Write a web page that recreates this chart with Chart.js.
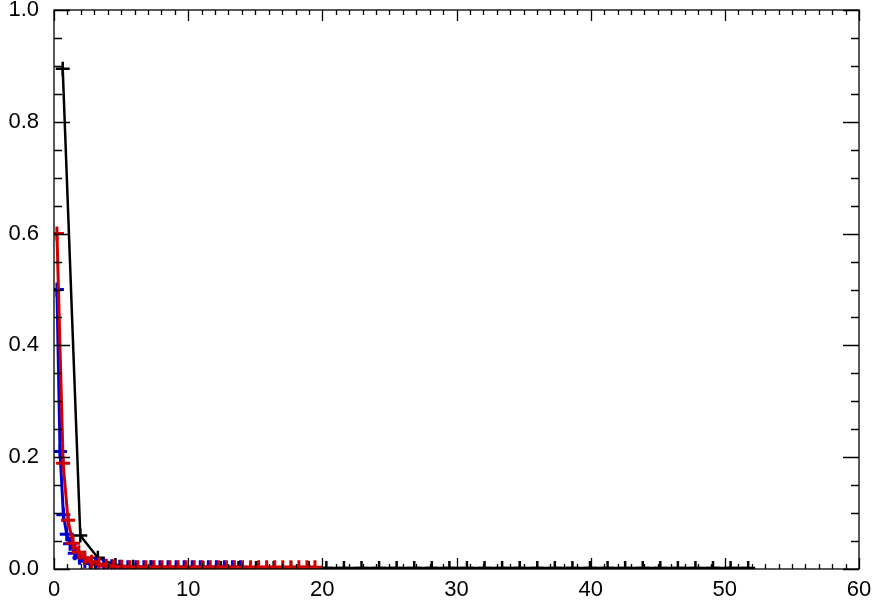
<!DOCTYPE html>
<html>
<head>
<meta charset="utf-8">
<script src="https://cdn.jsdelivr.net/npm/chart.js@4.4.1/dist/chart.umd.min.js"></script>
<style>
    html, body { margin: 0; padding: 0; background: #fff; }
    #wrap { position: relative; width: 876px; height: 605px; }
</style>
</head>
<body>
<div id="wrap"><canvas id="plot" width="876" height="605"></canvas></div>
<script>
// tick labels
const xTicks = [0, 10, 20, 30, 40, 50, 60];
const yTicks = [0.0, 0.2, 0.4, 0.6, 0.8, 1.0];

// black series
const blackX = [0.65, 1.96, 3.27, 4.58, 5.89, 7.20, 8.51, 9.82, 11.13, 12.44,
    13.75, 15.06, 16.37, 17.68, 18.99, 20.30, 21.61, 22.92, 24.23, 25.54,
    26.85, 28.16, 29.47, 30.78, 32.09, 33.40, 34.71, 36.02, 37.33, 38.64,
    39.95, 41.26, 42.57, 43.88, 45.19, 46.50, 47.81, 49.12, 50.43, 51.74];
const blackY = [0.895, 0.06, 0.02, 0.007, 0.004, 0.003, 0.002, 0.002, 0.002, 0.002,
    0.002, 0.002, 0.002, 0.002, 0.002, 0.002, 0.002, 0.002, 0.002, 0.002,
    0.002, 0.002, 0.002, 0.002, 0.002, 0.002, 0.002, 0.002, 0.002, 0.002,
    0.002, 0.002, 0.002, 0.002, 0.002, 0.002, 0.002, 0.002, 0.002, 0.002];

// blue series
const blueX = [0.22, 0.45, 0.70, 0.95, 1.20, 1.55, 1.90, 2.30, 2.70, 3.10,
    3.70, 4.30, 4.90, 5.50, 6.10, 6.70, 7.30, 7.90, 8.50, 9.10,
    9.70, 10.30, 10.90, 11.50, 12.10, 12.70, 13.30, 13.90];
const blueY = [0.5, 0.21, 0.097, 0.062, 0.045, 0.028, 0.02, 0.014, 0.01, 0.008,
    0.006, 0.005, 0.004, 0.003, 0.003, 0.003, 0.003, 0.003, 0.003, 0.003,
    0.003, 0.003, 0.003, 0.003, 0.003, 0.003, 0.003, 0.003];

// red series
const redX = [0.22, 0.68, 1.05, 1.42, 1.85, 2.30, 2.80, 3.35, 3.90, 4.45,
    5.05, 5.65, 6.25, 6.85, 7.45, 8.05, 8.65, 9.25, 9.85, 10.45,
    11.05, 11.65, 12.25, 12.85, 13.45, 14.05, 14.65, 15.25, 15.85, 16.45,
    17.05, 17.65, 18.25, 18.85, 19.45];
const redY = [0.6, 0.189, 0.087, 0.046, 0.03, 0.02, 0.013, 0.009, 0.006, 0.005,
    0.004, 0.003, 0.003, 0.003, 0.003, 0.003, 0.003, 0.003, 0.003, 0.003,
    0.003, 0.003, 0.003, 0.003, 0.003, 0.003, 0.003, 0.003, 0.003, 0.003,
    0.003, 0.003, 0.003, 0.003, 0.003];

function pairs(xs, ys) {
    return xs.map((x, i) => ({ x: x, y: ys[i] }));
}

function series(xs, ys, color, width) {
    return {
        data: pairs(xs, ys),
        borderColor: color,
        backgroundColor: color,
        borderWidth: width,
        pointStyle: 'cross',
        pointRadius: 7,
        pointBorderWidth: width,
        pointBorderColor: color,
        tension: 0,
        fill: false
    };
}

// IDL style box with inward ticks on all four sides
const boxAxes = {
    id: 'boxAxes',
    afterDatasetsDraw(chart) {
        const { ctx, chartArea: a, scales } = chart;
        const xs = scales.x, ys = scales.y;
        ctx.save();
        ctx.strokeStyle = '#000';
        ctx.lineWidth = 1.3;
        ctx.strokeRect(a.left, a.top, a.right - a.left, a.bottom - a.top);
        ctx.beginPath();
        for (let v = 0; v <= 60; v += 1) {
            const px = Math.round(xs.getPixelForValue(v)) + 0.5;
            const len = v % 10 === 0 ? 11 : 5;
            ctx.moveTo(px, a.bottom); ctx.lineTo(px, a.bottom - len);
            ctx.moveTo(px, a.top); ctx.lineTo(px, a.top + len);
        }
        for (let k = 0; k <= 20; k++) {
            const py = Math.round(ys.getPixelForValue(k * 0.05)) + 0.5;
            const len = k % 4 === 0 ? 16 : 8;
            ctx.moveTo(a.left, py); ctx.lineTo(a.left + len, py);
            ctx.moveTo(a.right, py); ctx.lineTo(a.right - len, py);
        }
        ctx.stroke();
        ctx.restore();
    }
};

Chart.defaults.font.family = "'Liberation Sans', Arial, sans-serif";
Chart.defaults.color = '#000';

new Chart(document.getElementById('plot').getContext('2d'), {
    type: 'line',
    data: {
        datasets: [
            series(blackX, blackY, '#000000', 2.5),
            series(blueX, blueY, '#0000d0', 3),
            series(redX, redY, '#d00000', 3)
        ].reverse()
    },
    options: {
        responsive: false,
        animation: false,
        layout: { padding: { top: 8, right: 17, left: 0, bottom: 0 } },
        plugins: { legend: { display: false }, tooltip: { enabled: false } },
        scales: {
            x: {
                type: 'linear',
                min: 0, max: 60,
                afterBuildTicks: s => { s.ticks = xTicks.map(v => ({ value: v })); },
                afterFit: s => { s.height = 36; s.paddingLeft = 0; s.paddingRight = 0; },
                grid: { display: false, drawTicks: false },
                border: { display: false },
                ticks: { font: { size: 22 }, padding: 8, maxRotation: 0, callback: v => String(v) }
            },
            y: {
                type: 'linear',
                min: 0, max: 1,
                afterBuildTicks: s => { s.ticks = yTicks.map(v => ({ value: v })); },
                afterFit: s => { s.width = 54; s.paddingTop = 0; s.paddingBottom = 0; },
                grid: { display: false, drawTicks: false },
                border: { display: false },
                ticks: { font: { size: 22 }, padding: 15, callback: v => Number(v).toFixed(1) }
            }
        }
    },
    plugins: [boxAxes]
});
</script>
</body>
</html>
